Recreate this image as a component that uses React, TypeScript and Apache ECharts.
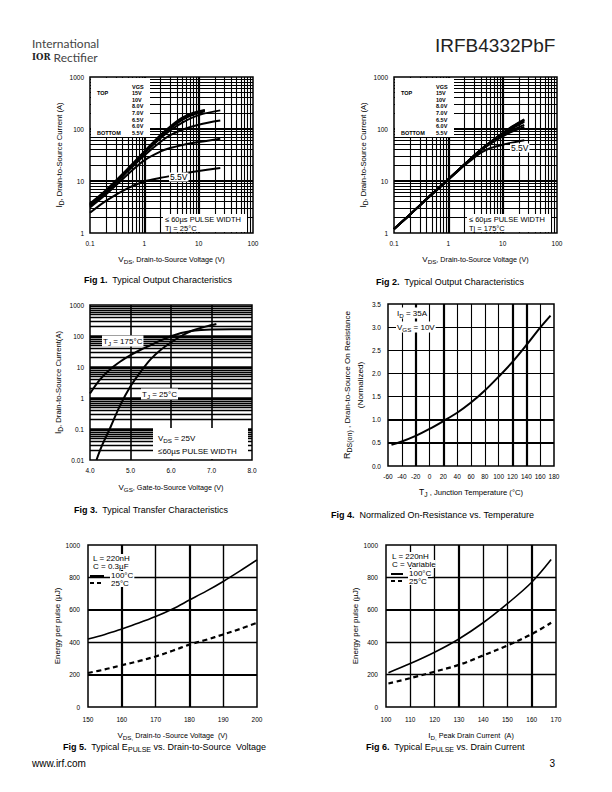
import React, { useEffect, useRef } from "react";
import * as echarts from "echarts";

const FONT = "'Liberation Sans', Arial, Helvetica, sans-serif";

// ---------------- DATA ----------------
// Fig 1: Typical output characteristics, Tj = 25°C  ([VDS (V), ID (A)])
const fig1VgsList = ["15V", "10V", "8.0V", "7.0V", "6.5V", "6.0V", "5.5V"];
const fig1_15V = [[0.1, 3.7], [0.2, 6.8], [0.5, 17.5], [1, 37], [2, 78], [3, 112], [5, 165], [8, 205], [13, 232]];
const fig1_10V = [[0.1, 3.6], [0.2, 6.6], [0.5, 17], [1, 36], [2, 75], [3, 108], [5, 158], [8, 198], [13, 226]];
const fig1_8V = [[0.1, 3.5], [0.2, 6.4], [0.5, 16.5], [1, 35], [2, 72], [3, 103], [5, 150], [8, 190], [13, 220]];
const fig1_7V = [[0.1, 3.4], [0.2, 6.2], [0.5, 16], [1, 34], [2, 67], [3, 94], [5, 133], [10, 185], [25, 228]];
const fig1_6_5V = [[0.1, 3.3], [0.2, 6.0], [0.5, 15.5], [1, 31], [2, 57], [3, 76], [5, 97], [10, 121], [25, 145]];
const fig1_6V = [[0.1, 3.1], [0.2, 5.6], [0.5, 13.5], [1, 25], [2, 37], [3, 43], [5, 49], [10, 56], [25, 65]];
const fig1_5_5V = [[0.1, 2.45], [0.2, 4.2], [0.5, 7.3], [1, 9.8], [2, 11.5], [3, 12.4], [5, 13.8], [10, 15.5], [25, 17.8]];

// Fig 2: Typical output characteristics, Tj = 175°C
const fig2_15V = [[0.1, 1.2], [0.2, 2.3], [0.5, 5.6], [1, 10.8], [2, 21], [3, 31], [5, 49], [10, 84], [15, 112], [25, 153]];
const fig2_10V = [[0.1, 1.2], [0.2, 2.3], [0.5, 5.6], [1, 10.8], [2, 21], [3, 31], [5, 49], [10, 83], [15, 110], [25, 149]];
const fig2_8V = [[0.1, 1.2], [0.2, 2.3], [0.5, 5.6], [1, 10.8], [2, 21], [3, 31], [5, 48], [10, 82], [15, 107], [25, 145]];
const fig2_7V = [[0.1, 1.2], [0.2, 2.3], [0.5, 5.6], [1, 10.8], [2, 21], [3, 31], [5, 48], [10, 80], [15, 103], [25, 137]];
const fig2_6_5V = [[0.1, 1.2], [0.2, 2.3], [0.5, 5.6], [1, 10.8], [2, 21], [3, 31], [5, 47], [10, 76], [15, 95], [25, 120]];
const fig2_6V = [[0.1, 1.2], [0.2, 2.3], [0.5, 5.6], [1, 10.7], [2, 21], [3, 30], [5, 46], [10, 72], [15, 89], [25, 110]];
const fig2_5_5V = [[0.1, 1.2], [0.2, 2.3], [0.5, 5.5], [1, 10.5], [2, 20], [3, 28], [4, 35], [6, 43], [10, 50], [25, 61]];

// Fig 3: Typical transfer characteristics, VDS = 25V  (VGS V, ID A)
const fig3Vgs175 = [4.0, 4.25, 4.5, 4.75, 5.0, 5.25, 5.5, 5.75, 6.0, 6.25, 6.5, 6.75, 7.0, 7.5, 8.0];
const fig3Id175 = [1.4, 4.0, 8.5, 15, 24, 36, 51, 72, 98, 125, 146, 157, 162, 164, 164];
const fig3Vgs25 = [4.16, 4.3, 4.5, 4.75, 5.0, 5.25, 5.5, 5.75, 6.0, 6.25, 6.5, 6.75, 7.0, 7.12];
const fig3Id25 = [0.01, 0.03, 0.11, 0.6, 2.4, 7, 18, 36, 62, 100, 145, 185, 225, 245];

// Fig 4: Normalized RDS(on) vs temperature
const fig4Temp = [-55, -40, -20, 0, 20, 40, 60, 80, 100, 120, 140, 160, 175];
const fig4Rds = [0.46, 0.53, 0.65, 0.8, 0.97, 1.15, 1.37, 1.63, 1.93, 2.25, 2.61, 2.99, 3.25];

// Fig 5: EPULSE vs VDS
const fig5Vds = [150, 155, 160, 165, 170, 175, 180, 185, 190, 195, 200];
const fig5E100 = [420, 448, 482, 518, 558, 605, 660, 715, 775, 840, 908];
const fig5E25 = [210, 232, 258, 283, 312, 347, 385, 415, 448, 482, 520];

// Fig 6: EPULSE vs ID
const fig6Id = [101, 110, 120, 130, 140, 150, 160, 168];
const fig6E100 = [212, 268, 338, 420, 520, 638, 770, 910];
const fig6E25 = [145, 178, 218, 260, 318, 380, 450, 520];

// Grid-line values (axis values)
const LOG_STEPS = [2, 3, 4, 5, 6, 7, 8, 9];
const fig3XGrid = [5, 6, 7];
const fig4XGrid = [-40, -20, 0, 20, 40, 60, 80, 100, 120, 140, 160];
const fig4XThick = [-20, 20, 120, 140];
const fig4YGrid = [0.5, 1.0, 1.5, 2.0, 2.5, 3.0];
const fig4YThick = [0.5, 1.0];
const fig5XGrid = [160, 170, 180, 190];
const fig5XThick = [160, 180];
const fig5YGrid = [200, 400, 600, 800];
const fig5YThick = [200, 600];
const fig6XGrid = [110, 120, 130, 140, 150, 160];
const fig6XThick = [130, 160];
const fig6YGrid = [200, 400, 600, 800];
const fig6YThick = [600];

// ---------------- LAYOUT ----------------
const G = [
  { left: 90, top: 77, width: 163, height: 156 },
  { left: 394, top: 77, width: 163, height: 156 },
  { left: 90, top: 305, width: 162, height: 155 },
  { left: 388, top: 304, width: 166, height: 162 },
  { left: 88, top: 545, width: 169, height: 162 },
  { left: 386, top: 545, width: 170, height: 162 },
];

const zip = (xs: number[], ys: number[]) => xs.map((x, i) => [x, ys[i]]);

function logLines(minExp: number, maxExp: number) {
  const minor: number[] = [];
  const major: number[] = [];
  for (let e = minExp; e < maxExp; e++) {
    const d = Math.pow(10, e);
    if (e > minExp) major.push(+d.toPrecision(3));
    for (const m of LOG_STEPS) minor.push(+(d * m).toPrecision(3));
  }
  return { minor, major };
}

const vL = (x: number, y0: number, y1: number, w: number) => ({ coords: [[x, y0], [x, y1]], lineStyle: { width: w } });
const hL = (y: number, x0: number, x1: number, w: number) => ({ coords: [[x0, y], [x1, y]], lineStyle: { width: w } });

function gridSeries(idx: number, data: any[]) {
  return {
    type: "lines",
    coordinateSystem: "cartesian2d",
    xAxisIndex: idx,
    yAxisIndex: idx,
    silent: true,
    z: 1,
    lineStyle: { color: "#000", width: 1, opacity: 1 },
    data,
  };
}

function curve(idx: number, data: number[][], width = 2, dashed = false) {
  return {
    type: "line",
    xAxisIndex: idx,
    yAxisIndex: idx,
    data,
    smooth: 0.35,
    showSymbol: false,
    symbol: "none",
    silent: true,
    z: 3,
    lineStyle: { color: "#000", width, type: dashed ? [5, 3.5] : "solid" },
  };
}

const fmtNum = (v: number) => String(+(+v).toPrecision(6));

function axisBase(extra: any) {
  return {
    axisLine: { show: false },
    axisTick: { show: false },
    splitLine: { show: false },
    minorTick: { show: false },
    minorSplitLine: { show: false },
    ...extra,
  };
}
const lbl = (margin: number, extra: any = {}) => ({
  show: true,
  color: "#000",
  fontFamily: FONT,
  fontSize: 6.5,
  margin,
  formatter: fmtNum,
  ...extra,
});

// ---------------- TEXT HELPERS ----------------
function richSet(size: number) {
  return {
    n: { fontSize: size, fontFamily: FONT, fill: "#000" },
    m: { fontSize: size * 0.9, fontFamily: FONT, fill: "#000" },
    b: { fontSize: size, fontFamily: FONT, fill: "#000", fontWeight: "bold" },
    s: { fontSize: size * 0.78, fontFamily: FONT, fill: "#000", padding: [Math.round(size * 0.6), 0, 0, 0] },
  };
}

function T(x: number, y: number, text: string, o: any = {}) {
  const size = o.size ?? 8;
  return {
    type: "text",
    x,
    y,
    rotation: o.rot ?? 0,
    z: o.z ?? 10,
    silent: true,
    style: {
      text,
      fill: o.color ?? "#000",
      fontSize: size,
      fontFamily: o.family ?? FONT,
      fontWeight: o.weight ?? "normal",
      align: o.align ?? "left",
      verticalAlign: o.vAlign ?? "middle",
      textAlign: o.align ?? "left",
      textVerticalAlign: o.vAlign ?? "middle",
      backgroundColor: o.bg,
      padding: o.pad,
      rich: o.rich ?? richSet(size),
    },
  };
}

const R = (x: number, y: number, w: number, h: number) => ({
  type: "rect",
  z: 2,
  silent: true,
  shape: { x, y, width: w, height: h },
  style: { fill: "#fff" },
});

const sampleLine = (x1: number, x2: number, y: number, dashed: boolean) => ({
  type: "line",
  z: 10,
  silent: true,
  shape: { x1, y1: y, x2, y2: y },
  style: { stroke: "#000", lineWidth: 2, lineDash: dashed ? [4, 3] : null },
});

function vgsLegend(g: any) {
  const L = g.left;
  const Tp = g.top;
  const els: any[] = [R(L + 1, Tp + 1, 59, 59)];
  els.push(T(L + 42, Tp + 10, "VGS", { size: 5.5, weight: "bold", rich: {} }));
  els.push(T(L + 7, Tp + 16, "TOP", { size: 5.5, weight: "bold", rich: {} }));
  els.push(T(L + 7, Tp + 56, "BOTTOM", { size: 5.5, weight: "bold", rich: {} }));
  fig1VgsList.forEach((v, i) => {
    els.push(T(L + 42, Tp + 16 + i * 6.65, v, { size: 5.5, weight: "bold", rich: {} }));
  });
  return els;
}

function buildOption() {
  const [g1, g2, g3, g4, g5, g6] = G;

  const lx = logLines(-1, 2); // 0.1..100
  const ly = logLines(0, 3); // 1..1000
  const ly3 = logLines(-2, 3); // 0.01..1000

  const fig12Grid = [
    ...lx.minor.filter((v) => v > 0.1 && v < 100).map((v) => vL(v, 1, 1000, 1.1)),
    ...lx.major.map((v) => vL(v, 1, 1000, 2.2)),
    ...ly.minor.filter((v) => v > 1 && v < 1000).map((v) => hL(v, 0.1, 100, 1.1)),
    ...ly.major.map((v) => hL(v, 0.1, 100, 2.2)),
  ];
  const fig3Grid = [
    ...fig3XGrid.map((v) => vL(v, 0.01, 1000, 1.6)),
    ...ly3.minor.filter((v) => v > 0.01 && v < 1000).map((v) => hL(v, 4, 8, 1.3)),
    ...ly3.major.map((v) => hL(v, 4, 8, 2.6)),
  ];
  const fig4Grid = [
    ...fig4XGrid.map((v) => vL(v, 0, 3.5, fig4XThick.includes(v) ? 2.2 : 1.1)),
    ...fig4YGrid.map((v) => hL(v, -60, 180, fig4YThick.includes(v) ? 2.2 : 1.1)),
  ];
  const fig5Grid = [
    ...fig5XGrid.map((v) => vL(v, 0, 1000, fig5XThick.includes(v) ? 2.2 : 1.4)),
    ...fig5YGrid.map((v) => hL(v, 150, 200, fig5YThick.includes(v) ? 2.2 : 1.4)),
  ];
  const fig6Grid = [
    ...fig6XGrid.map((v) => vL(v, 0, 1000, fig6XThick.includes(v) ? 2.2 : 1.3)),
    ...fig6YGrid.map((v) => hL(v, 100, 170, fig6YThick.includes(v) ? 2.2 : 1.3)),
  ];

  const grids = G.map((g) => ({
    ...g,
    show: true,
    borderColor: "#000",
    borderWidth: 1.5,
    backgroundColor: "transparent",
    containLabel: false,
    outerBoundsMode: "none",
  }));

  const oneDec = (v: number) => v.toFixed(1);
  const xAxis = [
    axisBase({ gridIndex: 0, type: "log", logBase: 10, min: 0.1, max: 100, axisLabel: lbl(7) }),
    axisBase({ gridIndex: 1, type: "log", logBase: 10, min: 0.1, max: 100, axisLabel: lbl(7) }),
    axisBase({ gridIndex: 2, type: "value", min: 4, max: 8, interval: 1, axisLabel: lbl(7, { formatter: oneDec }) }),
    axisBase({ gridIndex: 3, type: "value", min: -60, max: 180, interval: 20, axisLabel: lbl(7) }),
    axisBase({ gridIndex: 4, type: "value", min: 150, max: 200, interval: 10, axisLabel: lbl(9) }),
    axisBase({ gridIndex: 5, type: "value", min: 100, max: 170, interval: 10, axisLabel: lbl(9) }),
  ];
  const yAxis = [
    axisBase({ gridIndex: 0, type: "log", logBase: 10, min: 1, max: 1000, axisLabel: lbl(6) }),
    axisBase({ gridIndex: 1, type: "log", logBase: 10, min: 1, max: 1000, axisLabel: lbl(6) }),
    axisBase({ gridIndex: 2, type: "log", logBase: 10, min: 0.01, max: 1000, axisLabel: lbl(6) }),
    axisBase({ gridIndex: 3, type: "value", min: 0, max: 3.5, interval: 0.5, axisLabel: lbl(7, { formatter: oneDec }) }),
    axisBase({ gridIndex: 4, type: "value", min: 0, max: 1000, interval: 200, axisLabel: lbl(8) }),
    axisBase({ gridIndex: 5, type: "value", min: 0, max: 1000, interval: 200, axisLabel: lbl(8) }),
  ];

  const series: any[] = [
    gridSeries(0, fig12Grid),
    gridSeries(1, fig12Grid),
    gridSeries(2, fig3Grid),
    gridSeries(3, fig4Grid),
    gridSeries(4, fig5Grid),
    gridSeries(5, fig6Grid),
    curve(0, fig1_15V),
    curve(0, fig1_10V),
    curve(0, fig1_8V),
    curve(0, fig1_7V),
    curve(0, fig1_6_5V),
    curve(0, fig1_6V),
    curve(0, fig1_5_5V),
    curve(1, fig2_15V),
    curve(1, fig2_10V),
    curve(1, fig2_8V),
    curve(1, fig2_7V),
    curve(1, fig2_6_5V),
    curve(1, fig2_6V),
    curve(1, fig2_5_5V),
    curve(2, zip(fig3Vgs175, fig3Id175)),
    curve(2, zip(fig3Vgs25, fig3Id25)),
    curve(3, zip(fig4Temp, fig4Rds)),
    curve(4, zip(fig5Vds, fig5E100), 1.6),
    curve(4, zip(fig5Vds, fig5E25), 2.2, true),
    curve(5, zip(fig6Id, fig6E100), 1.6),
    curve(5, zip(fig6Id, fig6E25), 2.2, true),
  ];

  const graphic: any[] = [
    // header / footer
    T(32, 43, "International", { size: 12, family: "Lato, 'DejaVu Sans', sans-serif", color: "#444", rich: {} }),
    T(32, 57, "{l|IOR}{r| Rectifier}", {
      size: 12,
      rich: {
        l: { fontFamily: "'DejaVu Serif', serif", fontWeight: "bold", fontSize: 8.5, fill: "#222" },
        r: { fontFamily: "Lato, 'DejaVu Sans', sans-serif", fontSize: 12, fill: "#444" },
      },
    }),
    T(435, 45, "IRFB4332PbF", { size: 19, color: "#222", rich: {} }),
    T(32, 763, "www.irf.com", { size: 10, rich: {} }),
    T(555, 763, "3", { size: 10, align: "right", rich: {} }),

    // Fig 1
    ...vgsLegend(g1),
    R(g1.left + 73, g1.top + 137, 84, 18),
    T(g1.left + 75, g1.top + 142, "≤ 60µs PULSE WIDTH", { size: 7.5, rich: {} }),
    T(g1.left + 75, g1.top + 151, "Tj = 25°C", { size: 7.5, rich: {} }),
    T(g1.left + 79, g1.top + 100, "5.5V", { size: 8.5, bg: "#fff", pad: [0, 1], rich: {} }),
    T(g1.left + g1.width / 2, 259, "{n|V}{s|DS}{m|, Drain-to-Source Voltage (V)}", { size: 8, align: "center" }),
    T(59, g1.top + g1.height / 2, "{n|I}{s|D}{m|, Drain-to-Source Current (A)}", { size: 8.5, align: "center", rot: Math.PI / 2 }),
    T(84, 280, "{b|Fig 1.}{n|  Typical Output Characteristics}", { size: 9 }),

    // Fig 2
    ...vgsLegend(g2),
    R(g2.left + 73, g2.top + 137, 84, 18),
    T(g2.left + 75, g2.top + 142, "≤ 60µs PULSE WIDTH", { size: 7.5, rich: {} }),
    T(g2.left + 75, g2.top + 151, "Tj = 175°C", { size: 7.5, rich: {} }),
    T(g2.left + 116, g2.top + 71, "5.5V", { size: 8.5, bg: "#fff", pad: [0, 1], rich: {} }),
    T(g2.left + g2.width / 2, 259, "{n|V}{s|DS}{m|, Drain-to-Source Voltage (V)}", { size: 8, align: "center" }),
    T(363, g2.top + g2.height / 2, "{n|I}{s|D}{m|, Drain-to-Source Current (A)}", { size: 8.5, align: "center", rot: Math.PI / 2 }),
    T(376, 282, "{b|Fig 2.}{n|  Typical Output Characteristics}", { size: 9 }),

    // Fig 3
    T(g3.left + 12, g3.top + 36, "{n|T}{s|J}{n| = 175°C}", { size: 8, bg: "#fff", pad: [0, 1] }),
    T(g3.left + 51, g3.top + 89, "{n|T}{s|J}{n| = 25°C}", { size: 8, bg: "#fff", pad: [0, 1] }),
    R(g3.left + 63, g3.top + 123, 95, 31),
    T(g3.left + 68, g3.top + 133, "{n|V}{s|DS}{n| = 25V}", { size: 8 }),
    T(g3.left + 68, g3.top + 146, "≤60µs PULSE WIDTH", { size: 8, rich: {} }),
    T(g3.left + g3.width / 2, 487, "{n|V}{s|GS}{m|, Gate-to-Source Voltage (V)}", { size: 8, align: "center" }),
    T(58, g3.top + g3.height / 2, "{n|I}{s|D}{m|, Drain-to-Source Current(A)}", { size: 8.5, align: "center", rot: Math.PI / 2 }),
    T(74, 510, "{b|Fig 3.}{n|  Typical Transfer Characteristics}", { size: 9 }),

    // Fig 4
    T(g4.left + 8, g4.top + 9, "{n|I}{s|D}{n| = 35A}", { size: 8, bg: "#fff", pad: [0, 1] }),
    T(g4.left + 8, g4.top + 23, "{n|V}{s|GS}{n| = 10V}", { size: 8, bg: "#fff", pad: [0, 1] }),
    T(g4.left + g4.width / 2, 492, "{n|T}{s|J}{m| , Junction Temperature (°C)}", { size: 8.5, align: "center" }),
    T(347, g4.top + g4.height / 2, "{n|R}{s|DS(on)}{m| , Drain-to-Source On Resistance}", { size: 9, align: "center", rot: Math.PI / 2 }),
    T(360, g4.top + g4.height / 2, "{m|(Normalized)}", { size: 9, align: "center", rot: Math.PI / 2 }),
    T(331, 515, "{b|Fig 4.}{n|  Normalized On-Resistance vs. Temperature}", { size: 9 }),

    // Fig 5
    T(g5.left + 5, g5.top + 13, "L = 220nH", { size: 8, bg: "#fff", rich: {} }),
    T(g5.left + 5, g5.top + 21, "C = 0.3µF", { size: 8, bg: "#fff", rich: {} }),
    sampleLine(g5.left + 2, g5.left + 16, g5.top + 31, false),
    T(g5.left + 22, g5.top + 30, "100°C", { size: 8, bg: "#fff", pad: [0, 1], rich: {} }),
    sampleLine(g5.left + 2, g5.left + 16, g5.top + 38, true),
    T(g5.left + 22, g5.top + 38, "25°C", { size: 8, bg: "#fff", pad: [0, 1], rich: {} }),
    T(g5.left + g5.width / 2, 735, "{n|V}{s|DS,}{m| Drain-to -Source Voltage  (V)}", { size: 8, align: "center" }),
    T(57, g5.top + g5.height / 2, "Energy per pulse (µJ)", { size: 8, align: "center", rot: Math.PI / 2, rich: {} }),
    T(63, 747, "{b|Fig 5.}{n|  Typical E}{s|PULSE}{n| vs. Drain-to-Source  Voltage}", { size: 9 }),

    // Fig 6
    T(g6.left + 6, g6.top + 11, "L = 220nH", { size: 8, bg: "#fff", rich: {} }),
    T(g6.left + 6, g6.top + 19, "C = Variable", { size: 8, bg: "#fff", rich: {} }),
    sampleLine(g6.left + 5, g6.left + 17, g6.top + 29, false),
    T(g6.left + 22, g6.top + 28, "100°C", { size: 8, bg: "#fff", pad: [0, 1], rich: {} }),
    sampleLine(g6.left + 5, g6.left + 17, g6.top + 36, true),
    T(g6.left + 22, g6.top + 36, "25°C", { size: 8, bg: "#fff", pad: [0, 1], rich: {} }),
    T(g6.left + g6.width / 2, 735, "{n|I}{s|D,}{m| Peak Drain Current  (A)}", { size: 8, align: "center" }),
    T(355, g6.top + g6.height / 2, "Energy per pulse (µJ)", { size: 8, align: "center", rot: Math.PI / 2, rich: {} }),
    T(366, 747, "{b|Fig 6.}{n|  Typical E}{s|PULSE}{n| vs. Drain Current}", { size: 9 }),
  ];

  return {
    animation: false,
    backgroundColor: "#fff",
    textStyle: { fontFamily: FONT },
    grid: grids,
    xAxis,
    yAxis,
    series,
    graphic: { elements: graphic },
  };
}

export default function App() {
  const ref = useRef<HTMLDivElement>(null);
  useEffect(() => {
    document.body.style.margin = "0";
    const chart = echarts.init(ref.current!, null, { renderer: "svg", width: 612, height: 792 });
    chart.setOption(buildOption() as any);
    return () => chart.dispose();
  }, []);
  return <div ref={ref} style={{ width: 612, height: 792, background: "#fff" }} />;
}
